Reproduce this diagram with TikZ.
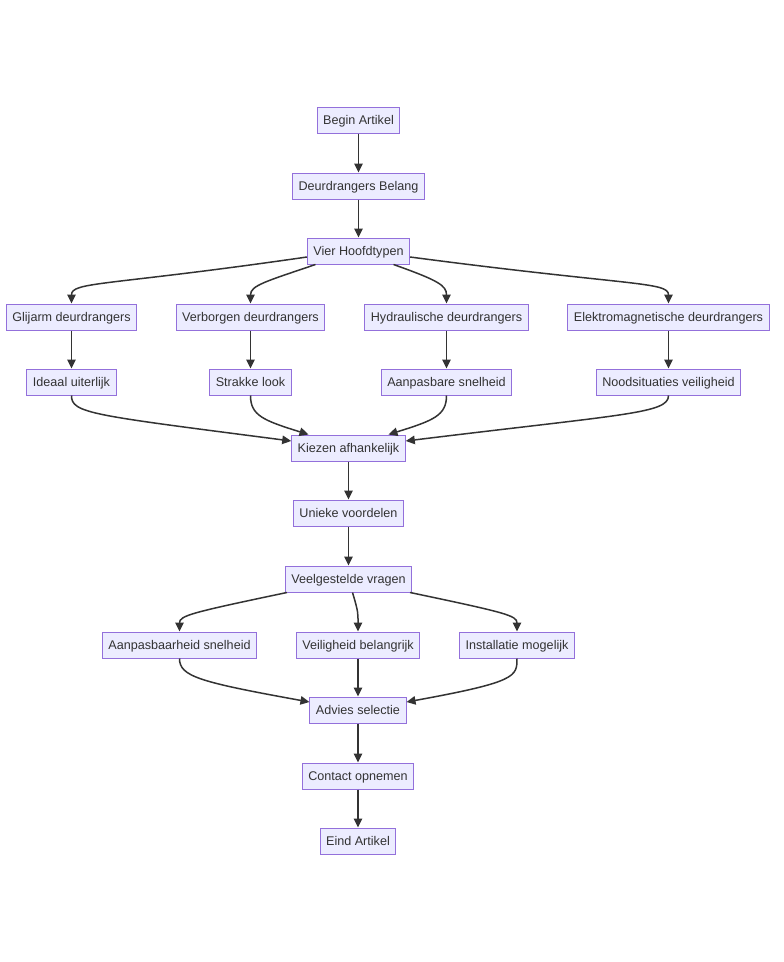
\documentclass[tikz,border=0pt]{standalone}
\usepackage{fontspec}
\setmainfont{Liberation Sans}
\usetikzlibrary{arrows.meta}
\definecolor{nodefill}{HTML}{ECECFF}
\definecolor{nodeline}{HTML}{9370DB}
\definecolor{edgeline}{HTML}{333333}
\tikzstyle{process} = [rectangle, minimum height=26pt, inner xsep=6pt, inner ysep=0pt, text height=9pt, text depth=0pt, text centered, draw=nodeline, line width=1pt, fill=nodefill, text=edgeline, font=\fontsize{12.6pt}{15pt}\selectfont]
\tikzstyle{arrow} = [line width=1.5pt, draw=edgeline, -{Triangle[length=9pt,width=8.5pt]}]

\begin{document}
\begin{tikzpicture}[x=1pt,y=1pt]
\useasboundingbox (0,0) rectangle (784,-962);
\node (begin) [process] at (358.5,-120) {Begin Artikel};
\node (belang) [process] at (358.5,-186) {Deurdrangers Belang};
\node (types) [process] at (358.5,-251) {Vier Hoofdtypen};
\node (glijarm) [process] at (71.5,-317) {Glijarm deurdrangers};
\node (verborgen) [process] at (250.5,-317) {Verborgen deurdrangers};
\node (hydro) [process] at (446.5,-317) {Hydraulische deurdrangers};
\node (elektro) [process] at (668.5,-317) {Elektromagnetische deurdrangers};
\node (ideaal) [process] at (71.5,-382) {Ideaal uiterlijk};
\node (strak) [process] at (250.5,-382) {Strakke look};
\node (snel) [process] at (446.5,-382) {Aanpasbare snelheid};
\node (nood) [process] at (668.5,-382) {Noodsituaties veiligheid};
\node (kiezen) [process] at (348.5,-448) {Kiezen afhankelijk};
\node (uniek) [process] at (348.5,-513) {Unieke voordelen};
\node (faq) [process] at (348.5,-579) {Veelgestelde vragen};
\node (aanpas) [process] at (179.5,-645) {Aanpasbaarheid snelheid};
\node (veilig) [process] at (358,-645) {Veiligheid belangrijk};
\node (install) [process] at (517,-645) {Installatie mogelijk};
\node (advies) [process] at (358,-710) {Advies selectie};
\node (contact) [process] at (358,-776) {Contact opnemen};
\node (eind) [process] at (358,-841) {Eind Artikel};

\draw [arrow] (begin) -- (belang);
\draw [arrow] (belang) -- (types);
\draw [arrow] ([yshift=-6pt]types.west) .. controls +(-200,-29) and +(0,22) .. (glijarm.north);
\draw [arrow] ([xshift=-43pt]types.south) .. controls +(-50,-17) and +(0,18) .. (verborgen.north);
\draw [arrow] ([xshift=35pt]types.south) .. controls +(45,-16) and +(0,18) .. (hydro.north);
\draw [arrow] ([yshift=-6pt]types.east) .. controls +(220,-29) and +(0,22) .. (elektro.north);
\draw [arrow] (glijarm) -- (ideaal);
\draw [arrow] (verborgen) -- (strak);
\draw [arrow] (hydro) -- (snel);
\draw [arrow] (elektro) -- (nood);
\draw [arrow] (ideaal.south) .. controls +(0,-18) and +(-200,26) .. ([yshift=7pt]kiezen.west);
\draw [arrow] (strak.south) .. controls +(0,-20) and +(-45,14) .. ([xshift=-40pt]kiezen.north);
\draw [arrow] (snel.south) .. controls +(0,-20) and +(45,14) .. ([xshift=40pt]kiezen.north);
\draw [arrow] (nood.south) .. controls +(0,-18) and +(220,27) .. ([yshift=7pt]kiezen.east);
\draw [arrow] (kiezen) -- (uniek);
\draw [arrow] (uniek) -- (faq);
\draw [arrow] ([xshift=2pt]faq.south west) .. controls +(-95,-20) and +(0,16) .. (aanpas.north);
\draw [arrow] ([xshift=4pt]faq.south) .. controls +(6,-20) and +(0,18) .. (veilig.north);
\draw [arrow] ([xshift=-2pt]faq.south east) .. controls +(95,-20) and +(0,16) .. (install.north);
\draw [arrow] (aanpas.south) .. controls +(0,-18) and +(-110,20) .. ([yshift=8pt]advies.west);
\draw [arrow] (veilig) -- (advies);
\draw [arrow] (install.south) .. controls +(0,-18) and +(110,20) .. ([yshift=8pt]advies.east);
\draw [arrow] (advies) -- (contact);
\draw [arrow] (contact) -- (eind);
\end{tikzpicture}
\end{document}
